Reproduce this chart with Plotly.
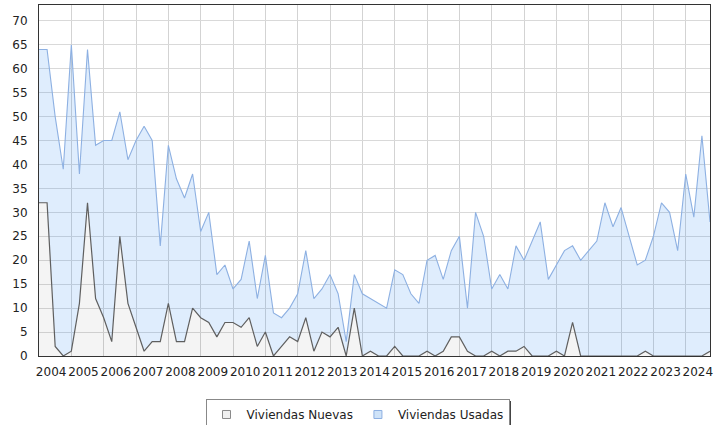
import plotly.graph_objects as go

# Quarterly data, 2004 T1 .. 2024 T4
start_year = 2004
nuevas = [32, 32, 2, 0, 1, 11, 32, 12, 8, 3, 25, 11, 6, 1, 3, 3,
          11, 3, 3, 10, 8, 7, 4, 7, 7, 6, 8, 2, 5, 0, 2, 4,
          3, 8, 1, 5, 4, 6, 0, 10, 0, 1, 0, 0, 2, 0, 0, 0,
          1, 0, 1, 4, 4, 1, 0, 0, 1, 0, 1, 1, 2, 0, 0, 0,
          1, 0, 7, 0, 0, 0, 0, 0, 0, 0, 0, 1, 0, 0, 0, 0,
          0, 0, 0, 1]
usadas = [64, 64, 50, 39, 65, 38, 64, 44, 45, 45, 51, 41, 45, 48, 45, 23,
          44, 37, 33, 38, 26, 30, 17, 19, 14, 16, 24, 12, 21, 9, 8, 10,
          13, 22, 12, 14, 17, 13, 3, 17, 13, 12, 11, 10, 18, 17, 13, 11,
          20, 21, 16, 22, 25, 10, 30, 25, 14, 17, 14, 23, 20, 24, 28, 16,
          19, 22, 23, 20, 22, 24, 32, 27, 31, 25, 19, 20, 25, 32, 30, 22,
          38, 29, 46, 28]
year_labels = [str(y) for y in range(2004, 2025)]
y_ticks = list(range(0, 75, 5))

x = [start_year + i / 4 for i in range(len(usadas))]

FONT = "DejaVu Sans"
GREY_LINE = "#5f5f5f"
GREY_FILL = "rgba(0,0,0,0.045)"
BLUE_LINE = "#8db0e2"
BLUE_FILL = "rgba(30,130,240,0.14)"

fig = go.Figure()
fig.add_trace(go.Scatter(x=x, y=nuevas, mode="lines", fill="tozeroy",
                         line=dict(color=GREY_LINE, width=1.2),
                         fillcolor=GREY_FILL, showlegend=False,
                         name="Viviendas Nuevas"))
fig.add_trace(go.Scatter(x=x, y=usadas, mode="lines", fill="tonexty",
                         line=dict(color=BLUE_LINE, width=1.1),
                         fillcolor=BLUE_FILL, showlegend=False,
                         name="Viviendas Usadas"))
# legend entries (square swatches)
fig.add_trace(go.Scatter(x=[None], y=[None], mode="markers", name="Viviendas Nuevas",
                         marker=dict(symbol="square", size=8, color="#f0f0f0",
                                     line=dict(color="#8a8a8a", width=1))))
fig.add_trace(go.Scatter(x=[None], y=[None], mode="markers", name="Viviendas Usadas",
                         marker=dict(symbol="square", size=8, color="#cfe3f8",
                                     line=dict(color="#8db0e2", width=1))))

# year labels sit at the centre of each year's four quarterly points
label_pos = [int(t) + 0.375 for t in year_labels]
grid_pos = [int(t) for t in year_labels[1:]]

fig.update_layout(
    width=715, height=425,
    margin=dict(l=39, r=5, t=5, b=69),
    paper_bgcolor="white", plot_bgcolor="white",
    font=dict(family=FONT, size=12, color="#222"),
    xaxis=dict(range=[start_year, start_year + (len(usadas) - 1) / 4],
               tickmode="array", tickvals=label_pos, ticktext=year_labels,
               tickangle=0, automargin=False, ticklabeloverflow="allow",
               showgrid=False, ticks="", ticklabelstandoff=5,
               showline=True, mirror=True, linecolor="#333", linewidth=1,
               zeroline=False,
               minor=dict(tickmode="array", tickvals=grid_pos, showgrid=True,
                          gridcolor="#d3d3d3", gridwidth=1, ticks=""),
               tickfont=dict(family=FONT, size=12, color="#222")),
    yaxis=dict(range=[0, 73.3], tickmode="array", tickvals=y_ticks,
               automargin=False,
               showgrid=True, gridcolor="#d9d9d9", gridwidth=1,
               ticks="", ticklabelstandoff=8,
               showline=True, mirror=True, linecolor="#333", linewidth=1,
               zeroline=False,
               tickfont=dict(family=FONT, size=12, color="#222")),
    legend=dict(orientation="h", xref="container", yref="container",
                traceorder="normal",
                x=0.5, xanchor="center", y=0.0612, yanchor="top",
                bordercolor="#888", borderwidth=1, bgcolor="white",
                font=dict(family=FONT, size=12, color="#222")),
    shapes=[dict(type="rect", xref="paper", yref="paper", layer="above",
                 x0=(210 - 39) / 671, x1=(511 - 39) / 671,
                 y0=(356 - 426) / 351, y1=(356 - 401) / 351,
                 fillcolor="#444", line=dict(width=0))],
)

fig.write_html("out.html",
               config={"displayModeBar": False},
               post_script="document.body.style.margin='0';"
                           "document.body.style.overflow='hidden';")
